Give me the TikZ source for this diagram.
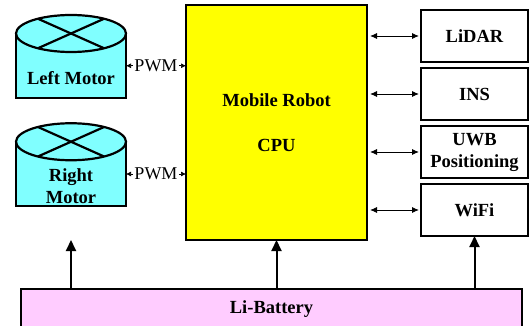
\documentclass[tikz,border=0pt]{standalone}
\usepackage{fontspec}
\setmainfont{Liberation Serif}
\usetikzlibrary{positioning,arrows.meta}

\definecolor{motorcyan}{RGB}{128,255,255}
\definecolor{cpuyellow}{RGB}{255,255,0}
\definecolor{battpink}{RGB}{255,204,255}

\tikzset{
	bigbold/.style={font=\fontsize{18.5}{22}\selectfont\bfseries},
	motorbody/.style={draw=black, line width=2.2pt, fill=motorcyan, minimum width=110pt, minimum height=64.5pt, inner sep=0pt, outer sep=0pt},
	motortop/.style={draw=black, line width=2.2pt, fill=motorcyan},
	cpubox/.style={draw=black, line width=1.8pt, fill=cpuyellow, minimum width=181pt, minimum height=235pt, align=center, outer sep=0pt, font=\fontsize{18.5}{45}\selectfont\bfseries},
	devbox/.style={bigbold, draw=black, line width=1.8pt, fill=white, minimum width=107pt, minimum height=52pt, align=center, inner sep=0pt, outer sep=0pt},
	battbox/.style={bigbold, draw=black, line width=1.6pt, fill=battpink, minimum width=501pt, minimum height=40pt, outer sep=0pt},
	pwmarrow/.style={{Latex[length=5pt,width=5pt]}-{Latex[length=5pt,width=5pt]}, line width=0.7pt},
	busarrow/.style={{Latex[length=7pt,width=6pt]}-{Latex[length=7pt,width=6pt]}, line width=0.9pt, shorten <=3pt, shorten >=2pt},
	powerarrow/.style={-{Triangle[length=11pt,width=10pt]}, line width=2pt}
}

\begin{document}
\begin{tikzpicture}[x=1pt, y=-1pt]
	\clip (0,0) rectangle (530,326);
	% Motors
	\node[motorbody] (lmotor) at (71,65.75) {};
	\node[motorbody] (rmotor) at (71,174) {};
	\foreach \m in {lmotor,rmotor} {
			\filldraw[motortop] (\m.north) ellipse [x radius=55pt, y radius=18.5pt];
			\draw[line width=2.2pt] ([shift={(127:55pt and 18.5pt)}]\m.north) -- ([shift={(-53:55pt and 18.5pt)}]\m.north);
			\draw[line width=2.2pt] ([shift={(53:55pt and 18.5pt)}]\m.north) -- ([shift={(233:55pt and 18.5pt)}]\m.north);
		}
	\node[bigbold] (ltext) at ([yshift=-12pt]lmotor.center) {Left Motor};
	\node[bigbold, align=center] (rtext) at ([yshift=-12pt]rmotor.center) {Right\\Motor};
	% CPU and devices
	\node[cpubox] (cpu) at (276.5,122.5) {Mobile Robot\\CPU};
	\node[devbox] (lidar) at (474.5,36) {LiDAR};
	\node[devbox, below=6pt of lidar] (ins) {INS};
	\node[devbox, below=6pt of ins] (uwb) {UWB\\Positioning};
	\node[devbox, below=6pt of uwb] (wifi) {WiFi};
	\node[battbox] (batt) at (271.5,309) {Li-Battery};
	% Links
	\foreach \m in {lmotor,rmotor} {
			\draw[pwmarrow] (\m.east) -- (\m.east -| cpu.west)
			node[midway, fill=white, inner sep=1pt, font=\fontsize{18}{22}\selectfont] {PWM};
		}
	\foreach \d in {lidar,ins,uwb,wifi} {
			\draw[busarrow] (cpu.east |- \d.west) -- (\d.west);
		}
	% Power
	\draw[powerarrow] (batt.north -| rmotor.south) -- (rmotor.south |- cpu.south);
	\draw[powerarrow] (batt.north -| cpu.south) -- (cpu.south);
	\draw[powerarrow] (batt.north -| wifi.south) -- (wifi.south);
\end{tikzpicture}
\end{document}
